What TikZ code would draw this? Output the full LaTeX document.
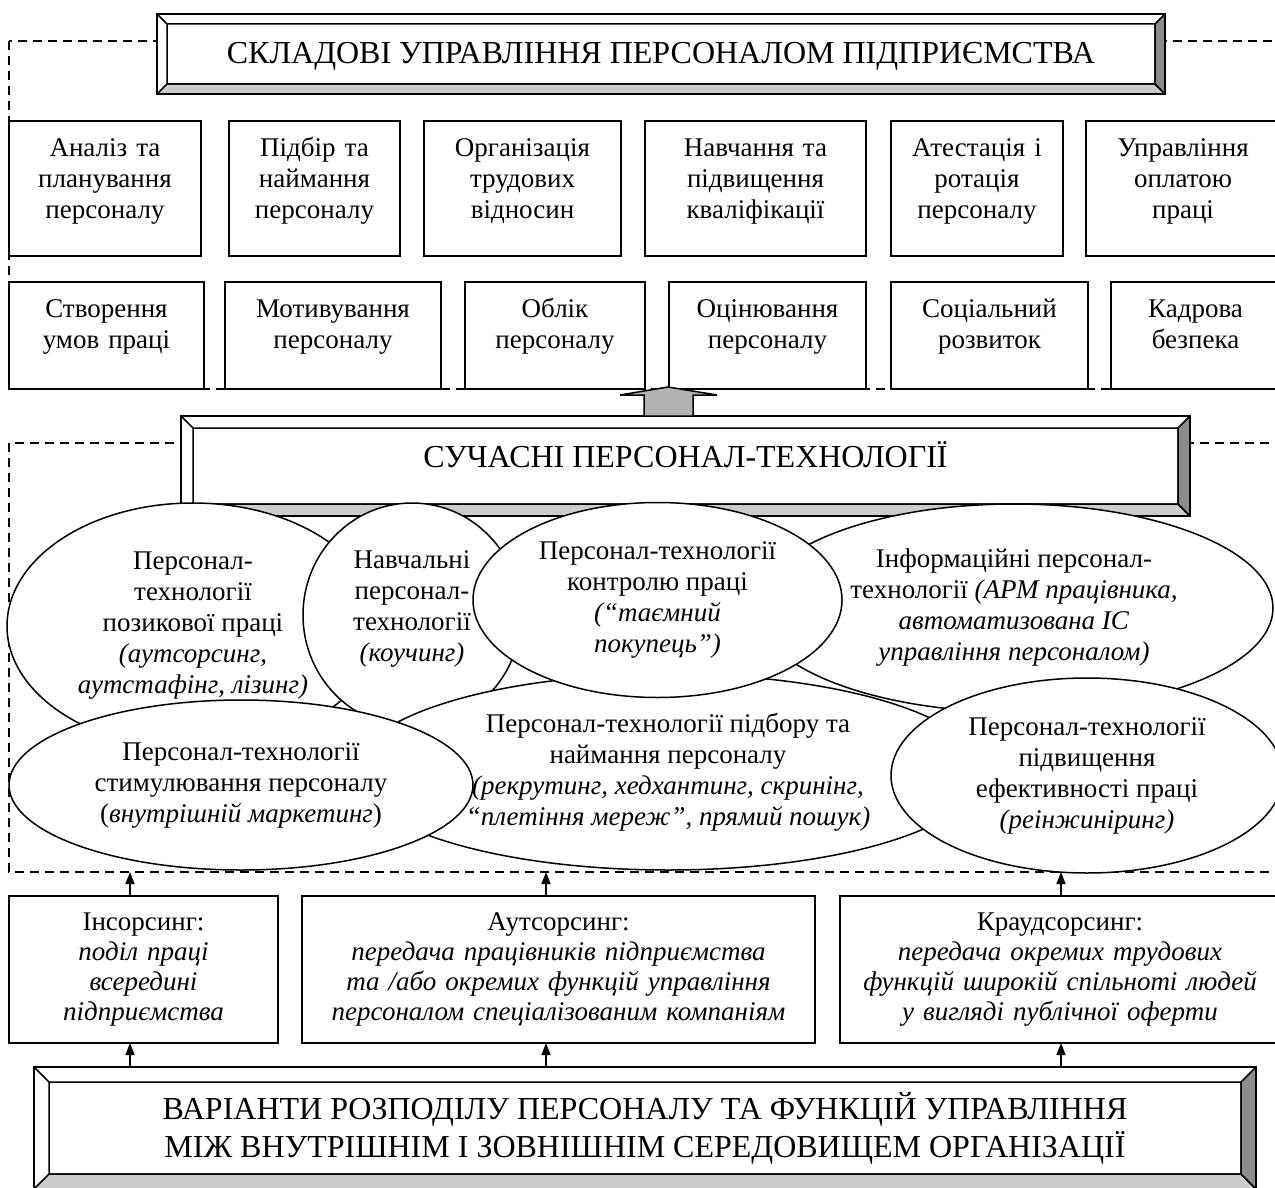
\documentclass[tikz,border=0pt]{standalone}
\usepackage{fontspec}
\setmainfont{Liberation Serif}
\usetikzlibrary{shapes.geometric,arrows.meta}

\tikzset{
  bevel/.style={draw, fill=white, line width=0.75pt, inner sep=0pt, outer sep=0pt, align=center,
    font=\fontsize{16pt}{19pt}\selectfont,
    path picture={
      \coordinate (o1) at (path picture bounding box.south west);
      \coordinate (o2) at (path picture bounding box.north east);
      \coordinate (i1) at ([shift={(#1,#1)}]o1);
      \coordinate (i2) at ([shift={(-#1,-#1)}]o2);
      \filldraw[line width=0.75pt, fill=black!20] (o1) -- (o1 -| o2) -- (i1 -| i2) -- (i1) -- cycle;
      \filldraw[line width=0.75pt, fill=black!45] (o1 -| o2) -- (o2) -- (i2) -- (i1 -| i2) -- cycle;
      \draw[line width=0.75pt] (i1) rectangle (i2) (o1 |- o2) -- (i1 |- i2);
    }},
  lift/.style={execute at begin node={\strut}, execute at end node={\strut\par\vspace*{#1}}}
}

\begin{document}
\begin{tikzpicture}[x=0.5pt,y=-0.5pt]
\tikzstyle{every node}=[font=\fontsize{13.5pt}{15.5pt}\selectfont]
\tikzstyle{cell}=[draw, fill=white, line width=0.75pt, inner sep=0pt, outer sep=0pt, align=center]
\tikzstyle{oval}=[ellipse, draw, fill=white, line width=0.75pt, inner sep=0pt, outer sep=0pt, align=center]
\tikzstyle{frame}=[line width=0.75pt, dash pattern=on 4.5pt off 3pt]
\tikzstyle{arr}=[-{Triangle[length=6pt,width=4.5pt]}, line width=0.75pt]
\path[use as bounding box, clip] (0,0) rectangle (1275,1188);

\coordinate (f1) at (9,41);
\coordinate (f2) at (9,872);
\draw[frame] (f1) rectangle (1290,389);
\draw[frame] (9,443) rectangle (1290,872);

\node[bevel=5pt, minimum width=504pt, minimum height=40pt, text height=11.3pt, text depth=1.7pt] (sklad) at (661,54) {СКЛАДОВІ УПРАВЛІННЯ ПЕРСОНАЛОМ ПІДПРИЄМСТВА};

\node[cell, lift=7.3pt, text width=96pt, minimum height=67.5pt] (a1) at (105,188.5) {Аналіз та\\планування\\персоналу};
\node[cell, lift=7.3pt, text width=85.5pt, minimum height=67.5pt] (a2) at (314.5,188.5) {Підбір та\\наймання\\персоналу};
\node[cell, lift=7.3pt, text width=98.5pt, minimum height=67.5pt] (a3) at (522.5,188.5) {Організація\\трудових\\відносин};
\node[cell, lift=7.3pt, text width=110.5pt, minimum height=67.5pt] (a4) at (755.5,188.5) {Навчання та\\підвищення\\кваліфікації};
\node[cell, lift=7.3pt, text width=86pt, minimum height=67.5pt] (a5) at (977,188.5) {Атестація і\\ротація\\персоналу};
\node[cell, lift=7.3pt, text width=97pt, minimum height=67.5pt] (a6) at (1183,188.5) {Управління\\оплатою\\праці};

\node[cell, lift=8.8pt, text width=97.5pt, minimum height=53.5pt] (b1) at (106.5,335.5) {Створення\\умов праці};
\node[cell, lift=8.8pt, text width=108pt, minimum height=53.5pt] (b2) at (333,335.5) {Мотивування\\персоналу};
\node[cell, lift=8.8pt, text width=90pt, minimum height=53.5pt] (b3) at (555,335.5) {Облік\\персоналу};
\node[cell, lift=8.8pt, text width=98.5pt, minimum height=53.5pt] (b4) at (767.5,335.5) {Оцінювання\\персоналу};
\node[cell, lift=8.8pt, text width=98.5pt, minimum height=53.5pt] (b5) at (989.5,335.5) {Соціальний\\розвиток};
\node[cell, lift=8.8pt, text width=84.5pt, minimum height=53.5pt] (b6) at (1195.5,335.5) {Кадрова\\безпека};

\node[bevel=6pt, minimum width=504.5pt, minimum height=50pt, text height=11.3pt, text depth=9.5pt] (tech) at (685.5,466) {СУЧАСНІ ПЕРСОНАЛ-ТЕХНОЛОГІЇ};
\coordinate (up) at ([xshift=-8.75pt]tech.north);
\draw[line width=0.75pt, fill=black!30] (up) ++(-24,0) -- ++(0,-21) -- ++(-24,0) -- ++(48,-8) -- ++(49,8) -- ++(-24,0) -- ++(0,21) -- cycle;

\node[oval, minimum width=186pt, minimum height=123pt] (e1) at (193,626) {Персонал-\\технології\\позикової праці\\\textit{(аутсорсинг,}\\\textit{аутстафінг, лізинг)}};
\node[oval, minimum width=259pt, minimum height=104pt] (e4) at (1014,608) {Інформаційні персонал-\\технології \textit{(АРМ працівника,}\\\textit{автоматизована ІС}\\\textit{управління персоналом)}};
\node[oval, text width=60pt, lift=6.6pt, minimum width=109pt, minimum height=112pt] (e2) at (412,615) {Навчальні\\персонал-\\технології\\\textit{(коучинг)}};
\node[oval, minimum width=314pt, minimum height=98pt] (e5) at (668,772) {Персонал-технології підбору та\\наймання персоналу\\\textit{(рекрутинг, хедхантинг, скринінг,}\\\textit{“плетіння мереж”, прямий пошук)}};
\node[oval, minimum width=184.5pt, minimum height=97.5pt] (e3) at (657.5,600) {Персонал-технології\\контролю праці\\\textit{(“таємний}\\\textit{покупець”)}};
\node[oval, minimum width=232pt, minimum height=85pt] (e7) at (241,785) {Персонал-технології\\стимулювання персоналу\\(\textit{внутрішній маркетинг})};
\node[oval, minimum width=196pt, minimum height=97.5pt] (e6) at (1087,775.5) {Персонал-технології\\підвищення\\ефективності праці\\\textit{(реінжиніринг)}};

\node[cell, text width=134.5pt, minimum height=73.5pt, font=\fontsize{13.5pt}{15pt}\selectfont] (ins) at (143.5,969.5) {Інсорсинг:\\\itshape поділ праці\\всередині\\підприємства};
\node[cell, text width=256.5pt, minimum height=73.5pt, font=\fontsize{13.5pt}{15pt}\selectfont] (auts) at (558.5,969.5) {Аутсорсинг:\\\itshape передача працівників підприємства\\та /або окремих функцій управління\\персоналом спеціалізованим компаніям};
\node[cell, text width=220pt, minimum height=73.5pt, font=\fontsize{13.5pt}{15pt}\selectfont] (kraud) at (1060,969.5) {Краудсорсинг:\\\itshape передача окремих трудових\\функцій широкій спільноті людей\\у вигляді публічної оферти};

\node[bevel=7.5pt, minimum width=611pt, minimum height=61pt] (varianty) at (645,1128) {ВАРІАНТИ РОЗПОДІЛУ ПЕРСОНАЛУ ТА ФУНКЦІЙ УПРАВЛІННЯ\\МІЖ ВНУТРІШНІМ І ЗОВНІШНІМ СЕРЕДОВИЩЕМ ОРГАНІЗАЦІЇ};

\coordinate (s1) at (130,0);
\coordinate (s2) at (546,0);
\coordinate (s3) at (1061,0);
\draw[arr] (varianty.north -| s1) -- (ins.south -| s1);
\draw[arr] (varianty.north -| s2) -- (auts.south -| s2);
\draw[arr] (varianty.north -| s3) -- (kraud.south -| s3);
\draw[arr] (ins.north -| s1) -- (f2 -| s1);
\draw[arr] (auts.north -| s2) -- (f2 -| s2);
\draw[arr] (kraud.north -| s3) -- (f2 -| s3);
\end{tikzpicture}
\end{document}
